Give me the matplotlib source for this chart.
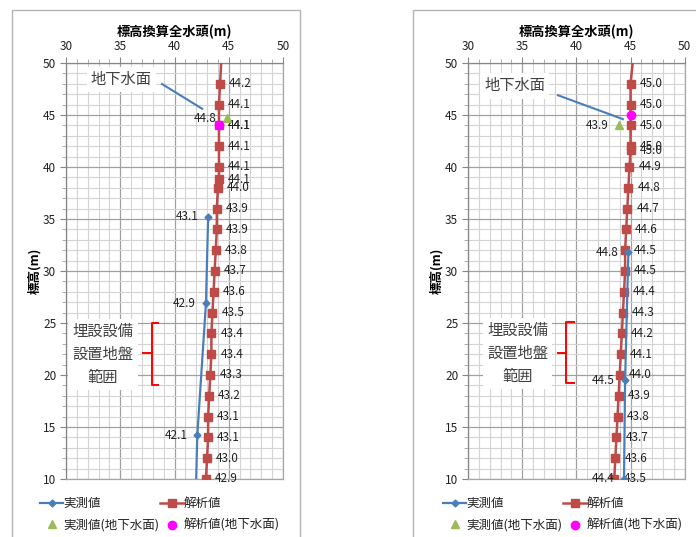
import matplotlib
matplotlib.use('Agg')
import matplotlib.pyplot as plt
from matplotlib.patches import Rectangle
from matplotlib.lines import Line2D

plt.rcParams['font.family'] = ['Noto Sans CJK JP', 'DejaVu Sans']

W, H = 696, 537

# ---------------- data (left chart) ----------------
L_calc_elev = [50, 48, 46, 44, 42, 40, 38.8, 38, 36, 34, 32, 30, 28, 26, 24, 22, 20, 18, 16, 14, 12, 10]
L_calc_head = [44.3, 44.2, 44.1, 44.1, 44.1, 44.1, 44.1, 44.0, 43.9, 43.9, 43.8, 43.7, 43.6, 43.5,
               43.4, 43.4, 43.3, 43.2, 43.1, 43.1, 43.0, 42.9]
L_obs_elev = [35.2, 26.9, 14.2, 10.0]
L_obs_head = [43.1, 42.9, 42.1, 42.0]
L_obs_wt_head = [44.8]
L_obs_wt_elev = [44.7]
L_calc_wt_head = [44.1]
L_calc_wt_elev = [44.0]

# ---------------- data (right chart) ----------------
R_calc_elev = [50, 48, 46, 44, 42.0, 41.6, 40, 38, 36, 34, 32, 30, 28, 26, 24, 22, 20, 18, 16, 14, 12, 10]
R_calc_head = [45.2, 45.0, 45.0, 45.0, 45.0, 45.0, 44.9, 44.8, 44.7, 44.6, 44.5, 44.5, 44.4, 44.3,
               44.2, 44.1, 44.0, 43.9, 43.8, 43.7, 43.6, 43.5]
R_obs_elev = [31.8, 19.5, 10.0]
R_obs_head = [44.8, 44.5, 44.4]
R_obs_wt_head = [43.9]
R_obs_wt_elev = [44.0]
R_calc_wt_head = [45.0]
R_calc_wt_elev = [45.0]

x_ticks = [30, 35, 40, 45, 50]
y_ticks = [10, 15, 20, 25, 30, 35, 40, 45, 50]
x_title = '標高換算全水頭(m)'
y_title = '標高(m)'
lbl_obs = '実測値'
lbl_calc = '解析値'
lbl_obs_wt = '実測値(地下水面)'
lbl_calc_wt = '解析値(地下水面)'
txt_wt = '地下水面'
txt_zone = '埋設設備\n設置地盤\n範囲'

C_RED = '#be4b48'
C_BLUE = '#4a7ebb'
C_GREEN = '#9bbb59'
C_MAG = '#ff00ff'
C_TXT = '#404040'
C_LBL = '#222222'
FS_LBL = 8.5

fig = plt.figure(figsize=(W / 100, H / 100), dpi=100)


def px_axes(x0, y0, x1, y1):
    return fig.add_axes([x0 / W, 1 - y1 / H, (x1 - x0) / W, (y1 - y0) / H])


# chart frames
fig.patches.append(Rectangle((12 / W, 1 - 545 / H), 288 / W, 535 / H, transform=fig.transFigure,
                             fill=False, ec='#b4b4b4', lw=1.0))
fig.patches.append(Rectangle((413 / W, 1 - 545 / H), 300 / W, 535 / H, transform=fig.transFigure,
                             fill=False, ec='#b4b4b4', lw=1.0))


def draw(ax, calc_e, calc_h, obs_e, obs_h, obs_mark, owt_h, owt_e, cwt_h, cwt_e, calc_wt_label,
         wt_text_xy, wt_line, zone_xy, brace, legend_x):
    ax.set_xlim(30, 50)
    ax.set_ylim(10, 50)
    ax.set_xticks(x_ticks)
    ax.set_xticks(range(30, 51), minor=True)
    ax.set_yticks(y_ticks)
    ax.set_yticks(range(10, 51), minor=True)
    ax.xaxis.tick_top()
    ax.tick_params(which='major', length=4, color='#868686', labelsize=8.5, labelcolor=C_LBL, pad=3)
    ax.tick_params(which='minor', length=3, color='#a0a0a0')
    ax.tick_params(axis='x', which='both', top=True, bottom=False)
    ax.grid(which='major', color='#a0a0a0', lw=0.9)
    ax.grid(which='minor', color='#d4d4d4', lw=0.8)
    ax.set_axisbelow(True)
    for s in ax.spines.values():
        s.set_color('#a6a6a6')
        s.set_linewidth(0.9)
    ax.spines['left'].set_color('#868686')
    ax.spines['top'].set_color('#868686')
    ax.set_xlabel(x_title, fontsize=9.5, fontweight='bold', labelpad=3)
    ax.xaxis.set_label_position('top')
    ax.set_ylabel(y_title, fontsize=9, fontweight='bold', labelpad=1)

    # analysis values
    ax.plot(calc_h, calc_e, color=C_RED, lw=1.8, marker='s', ms=5.5, markevery=list(range(1, len(calc_e))),
            zorder=3)
    for h, e in list(zip(calc_h, calc_e))[1:]:
        ax.annotate(f'{h:.1f}', (h, e), xytext=(9, 0), textcoords='offset pixels', ha='left', va='center',
                    fontsize=FS_LBL, color=C_LBL)
    # measured
    ax.plot(obs_h, obs_e, color=C_BLUE, lw=1.6, marker='D', ms=3.5, markevery=obs_mark, zorder=4)
    for i in obs_mark:
        ax.annotate(f'{obs_h[i]:.1f}', (obs_h[i], obs_e[i]), xytext=(-10, 0), textcoords='offset pixels',
                    ha='right', va='center', fontsize=FS_LBL, color=C_LBL)
    # water tables
    ax.plot(owt_h, owt_e, ls='none', marker='^', ms=6, color=C_GREEN, zorder=5)
    for h, e in zip(owt_h, owt_e):
        ax.annotate(f'{h:.1f}', (h, e), xytext=(-10, 0), textcoords='offset pixels', ha='right',
                    va='center', fontsize=FS_LBL, color=C_LBL)
    ax.plot(cwt_h, cwt_e, ls='none', marker='o', ms=6, color=C_MAG, zorder=6)
    if calc_wt_label:
        for h, e in zip(cwt_h, cwt_e):
            ax.annotate(f'{h:.1f}', (h, e), xytext=(9, 0), textcoords='offset pixels', ha='left',
                        va='center', fontsize=FS_LBL, color=C_LBL)

    # annotations
    ax.text(wt_text_xy[0], wt_text_xy[1], txt_wt, fontsize=11, color=C_TXT, ha='center', va='center',
            bbox=dict(fc='white', ec='none', pad=3), zorder=7)
    ax.add_line(Line2D(wt_line[0], wt_line[1], color=C_BLUE, lw=1.5, zorder=7))
    ax.text(zone_xy[0], zone_xy[1], txt_zone, fontsize=11, color=C_TXT, ha='center', va='center',
            linespacing=1.45, zorder=7,
            bbox=dict(fc='white', ec='none', pad=3))
    bx, bx_r, bx_l, yt, yb, ym = brace
    ax.add_line(Line2D([bx_r, bx, bx, bx_r], [yt, yt, yb, yb], color='#ff0000', lw=1.4, zorder=7))
    ax.add_line(Line2D([bx_l, bx], [ym, ym], color='#ff0000', lw=1.4, zorder=7))

    handles = [Line2D([], [], color=C_BLUE, lw=1.6, marker='D', ms=3.5),
               Line2D([], [], ls='none', marker='^', ms=6, color=C_GREEN),
               Line2D([], [], color=C_RED, lw=1.8, marker='s', ms=5.5),
               Line2D([], [], ls='none', marker='o', ms=6, color=C_MAG)]
    labels = [lbl_obs, lbl_obs_wt, lbl_calc, lbl_calc_wt]
    ax.legend(handles, labels, ncol=2, loc='upper left', bbox_to_anchor=(legend_x / W, 1 - 497 / H),
              bbox_transform=fig.transFigure, frameon=False, fontsize=9, handlelength=1.85,
              handletextpad=0.0, columnspacing=0.1, labelspacing=0.7, borderpad=0, borderaxespad=0,
              labelcolor=C_LBL)


axL = px_axes(66, 63, 283, 479)
draw(axL, L_calc_elev, L_calc_head, L_obs_elev, L_obs_head, [0, 1, 2],
     L_obs_wt_head, L_obs_wt_elev, L_calc_wt_head, L_calc_wt_elev, True,
     (35.1, 48.4), ([38.85, 42.55], [47.98, 45.6]), (33.4, 22.0),
     (37.9, 38.5, 37.1, 25.0, 19.05, 22.1), 40)

axR = px_axes(468, 63, 684.7, 479)
draw(axR, R_calc_elev, R_calc_head, R_obs_elev, R_obs_head, [0, 1, 2],
     R_obs_wt_head, R_obs_wt_elev, R_calc_wt_head, R_calc_wt_elev, False,
     (34.3, 47.8), ([38.3, 44.3], [46.9, 44.6]), (34.6, 22.1),
     (39.07, 39.78, 38.3, 25.13, 19.2, 22.15), 443)

fig.savefig('out.png', dpi=100, facecolor='white')
